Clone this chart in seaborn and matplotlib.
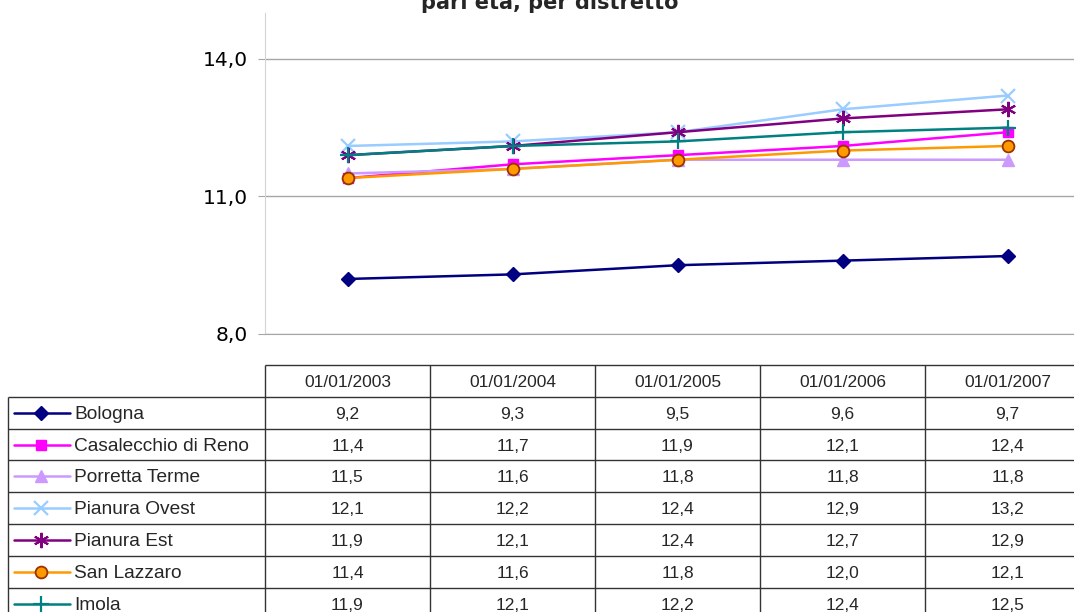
import numpy as np
import pandas as pd
import seaborn as sns
import matplotlib.pyplot as plt

# Categories (columns of the data table)
dates = ['01/01/2003', '01/01/2004', '01/01/2005', '01/01/2006', '01/01/2007']

# Series values per district
bologna = [9.2, 9.3, 9.5, 9.6, 9.7]
casalecchio = [11.4, 11.7, 11.9, 12.1, 12.4]
porretta = [11.5, 11.6, 11.8, 11.8, 11.8]
pianura_ovest = [12.1, 12.2, 12.4, 12.9, 13.2]
pianura_est = [11.9, 12.1, 12.4, 12.7, 12.9]
san_lazzaro = [11.4, 11.6, 11.8, 12.0, 12.1]
imola = [11.9, 12.1, 12.2, 12.4, 12.5]

districts = ['Bologna', 'Casalecchio di Reno', 'Porretta Terme', 'Pianura Ovest',
             'Pianura Est', 'San Lazzaro', 'Imola']
series = [bologna, casalecchio, porretta, pianura_ovest, pianura_est, san_lazzaro, imola]

# Excel-like styles
styles = {
    'Bologna':             dict(color='#000080', marker='D', mfc='#000080', mec='#000080', ms=7.5, mew=1),
    'Casalecchio di Reno': dict(color='#FF00FF', marker='s', mfc='#FF00FF', mec='#FF00FF', ms=7.5, mew=1),
    'Porretta Terme':      dict(color='#CC99FF', marker='^', mfc='#CC99FF', mec='#CC99FF', ms=9, mew=1),
    'Pianura Ovest':       dict(color='#99CCFF', marker='x', mfc='none', mec='#99CCFF', ms=9.5, mew=1.6),
    'Pianura Est':         dict(color='#800080', marker=(6, 2, 0), mfc='none', mec='#800080', ms=11, mew=1.5),
    'San Lazzaro':         dict(color='#FF9900', marker='o', mfc='#FF9900', mec='#993300', ms=8.5, mew=1.3),
    'Imola':               dict(color='#008080', marker='+', mfc='none', mec='#008080', ms=11, mew=1.6),
}

df = pd.DataFrame({
    'pos': np.tile(np.arange(len(dates)), len(districts)),
    'valore': np.concatenate(series),
    'distretto': np.repeat(districts, len(dates)),
})

sns.set_style('white')
plt.rcParams['font.family'] = ['DejaVu Sans']

W, H = 1074, 612
fig = plt.figure(figsize=(W / 100, H / 100), dpi=100)

# layout (pixels from top-left)
ax_left, ax_right, ax_top, ax_bottom = 265, 1090, 13, 334
tab_top, row_h, lab_left = 365, 31.8, 8
col_w = (ax_right - ax_left) / len(dates)

ax = fig.add_axes([ax_left / W, 1 - ax_bottom / H,
                   (ax_right - ax_left) / W, (ax_bottom - ax_top) / H])

for name in districts:
    st = styles[name]
    sub = df[df['distretto'] == name]
    sns.lineplot(data=sub, x='pos', y='valore', ax=ax, color=st['color'],
                 marker=st['marker'], markersize=st['ms'], mfc=st['mfc'],
                 mec=st['mec'], mew=st['mew'], lw=1.8, legend=False)

ax.set_xlim(-0.5, len(dates) - 0.5)
ax.set_ylim(8, 15)
ax.set_yticks([8, 11, 14])
ax.set_yticklabels(['8,0', '11,0', '14,0'])
ax.set_xticks([])
ax.set_xlabel('')
ax.set_ylabel('')
ax.yaxis.grid(True, color='#a6a6a6', lw=1)
ax.set_axisbelow(True)
for s in ['top', 'right']:
    ax.spines[s].set_visible(False)
ax.spines['left'].set_color('#d4d4d4')
ax.spines['bottom'].set_color('#a6a6a6')
ax.tick_params(axis='y', length=5, color='#a6a6a6', labelsize=14.5, pad=7,
               left=True, labelcolor='black')

fig.text(550 / W, 1 - 9 / H, 'pari età, per distretto', ha='center',
         va='baseline', fontsize=15, fontweight='bold')

# data table below the chart
tab_h = H - tab_top
ax_tab = fig.add_axes([ax_left / W, 0, (ax_right - ax_left) / W, tab_h / H])
ax_tab.set_xlim(-0.5, len(dates) - 0.5)
ax_tab.set_ylim(tab_h / row_h, 0)
ax_tab.axis('off')


def px_to_x(px):
    return -0.5 + (px - ax_left) / col_w


n = len(districts)
lab_x0 = px_to_x(lab_left)
lc = '#333333'
ax_tab.hlines(0, -0.5, len(dates) - 0.5, color=lc, lw=1, clip_on=False)
ax_tab.hlines(np.arange(1, n + 2), lab_x0, len(dates) - 0.5, color=lc, lw=1, clip_on=False)
ax_tab.vlines(np.arange(len(dates) + 1) - 0.5, 0, n + 1, color=lc, lw=1, clip_on=False)
ax_tab.vlines(lab_x0, 1, n + 1, color=lc, lw=1, clip_on=False)

tfont = ['Liberation Sans', 'DejaVu Sans']
for i, d in enumerate(dates):
    ax_tab.text(i, 0.55, d, ha='center', va='center', fontsize=12.5, family=tfont)

for r, (name, vals) in enumerate(zip(districts, series)):
    yc = r + 1.55
    st = styles[name]
    ax_tab.plot([px_to_x(14), px_to_x(70)], [r + 1.5, r + 1.5], color=st['color'], lw=1.8,
                clip_on=False)
    ax_tab.plot([px_to_x(41)], [r + 1.5], marker=st['marker'], ms=st['ms'], mfc=st['mfc'],
                mec=st['mec'], mew=st['mew'], clip_on=False)
    ax_tab.text(px_to_x(74), yc, name, ha='left', va='center', fontsize=13.8,
                family=tfont, clip_on=False)
    for j, v in enumerate(vals):
        ax_tab.text(j, yc, f'{v:.1f}'.replace('.', ','), ha='center', va='center',
                    fontsize=12.5, family=tfont)

fig.savefig('out.png', dpi=100)
